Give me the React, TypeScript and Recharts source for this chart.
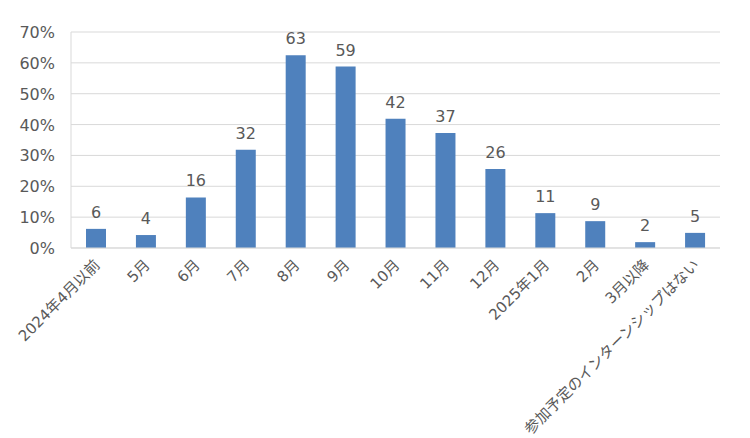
import { BarChart, Bar, XAxis, YAxis, CartesianGrid, LabelList } from "recharts";

const categories = [
  "2024年4月以前",
  "5月",
  "6月",
  "7月",
  "8月",
  "9月",
  "10月",
  "11月",
  "12月",
  "2025年1月",
  "2月",
  "3月以降",
  "参加予定のインターンシップはない",
];
// percent of respondents (label shows rounded value)
const values = [6.2, 4.2, 16.4, 31.8, 62.5, 58.8, 41.9, 37.3, 25.6, 11.3, 8.7, 1.9, 4.9];
const yTicks = [0, 10, 20, 30, 40, 50, 60, 70];

const data = categories.map((name, i) => ({ name, value: values[i] }));

const FONT = '"DejaVu Sans", "Noto Sans CJK JP", sans-serif';
const TEXT = "#595959";

function XTick(props: any) {
  const { x, y, payload } = props;
  return (
    <g transform={`translate(${x + 5},${y + 10})`}>
      <text
        x={0}
        y={0}
        textAnchor="end"
        transform="rotate(-45)"
        fill={TEXT}
        fontSize={15}
        fontFamily={FONT}
      >
        {payload.value}
      </text>
    </g>
  );
}

function YTick(props: any) {
  const { y, payload } = props;
  return (
    <text x={55} y={y} dy={6} textAnchor="end" fill={TEXT} fontSize={16} fontFamily={FONT}>
      {payload.value + "%"}
    </text>
  );
}

export default function App() {
  return (
    <div style={{ position: "absolute", left: 0, top: 0, background: "#fff" }}>
      <BarChart
        width={750}
        height={438}
        data={data}
        margin={{ top: 32, right: 30, left: 0, bottom: 0 }}
      >
        <CartesianGrid vertical={false} stroke="#d9d9d9" />
        <XAxis
          dataKey="name"
          interval={0}
          height={190}
          tick={<XTick />}
          tickLine={false}
          axisLine={{ stroke: "#d9d9d9" }}
        />
        <YAxis
          width={71}
          domain={[0, 70]}
          ticks={yTicks}
          tick={<YTick />}
          tickLine={false}
          axisLine={{ stroke: "#d9d9d9" }}
        />
        <Bar dataKey="value" fill="#4f81bd" barSize={20} isAnimationActive={false}>
          <LabelList
            dataKey="value"
            position="top"
            offset={11}
            formatter={(v: any) => Math.round(v)}
            fill={TEXT}
            fontSize={16}
            fontFamily={FONT}
          />
        </Bar>
      </BarChart>
    </div>
  );
}
